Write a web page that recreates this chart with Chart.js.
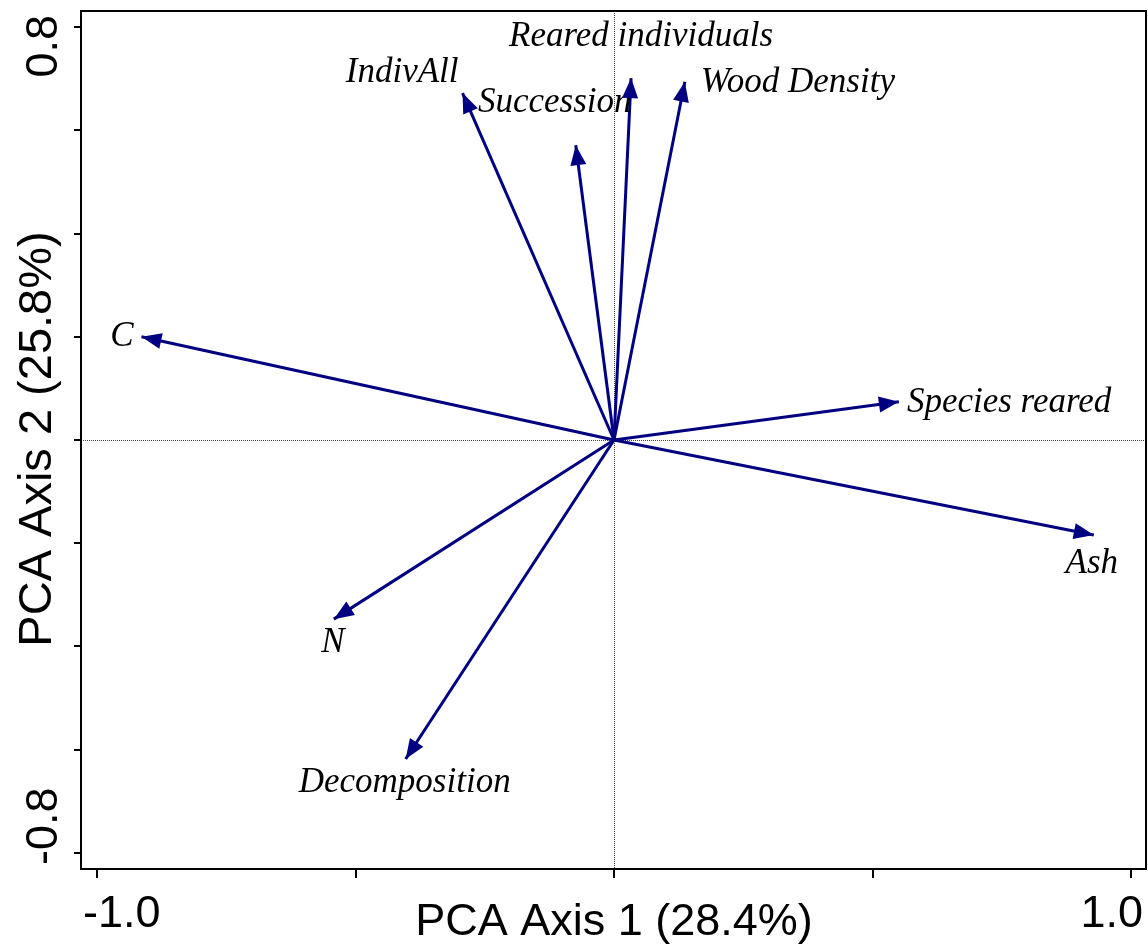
<!DOCTYPE html>
<html>
<head>
<meta charset="utf-8">
<title>PCA biplot</title>
<script src="https://cdn.jsdelivr.net/npm/chart.js@4.4.1/dist/chart.umd.min.js"></script>
<style>
  html, body { margin: 0; padding: 0; background: #fff; }
  #wrap { width: 1148px; height: 944px; }
</style>
</head>
<body>
<div id="wrap"><canvas id="pca"></canvas></div>
<script>
// variable loadings
const variables = ['C', 'Species reared', 'Ash', 'N', 'Decomposition',
                   'IndivAll', 'Succession', 'Reared individuals', 'Wood Density'];
const axis1 = [-0.914, 0.551, 0.928, -0.542, -0.403, -0.293, -0.074, 0.033, 0.137];
const axis2 = [0.200, 0.074, -0.184, -0.347, -0.618, 0.672, 0.571, 0.701, 0.694];

const xTicks = [-1.0, -0.5, 0, 0.5, 1.0];
const yTicks = [-0.8, -0.6, -0.4, -0.2, 0, 0.2, 0.4, 0.6, 0.8];
const xTickLabels = ['-1.0', '1.0'];
const yTickLabels = ['-0.8', '0.8'];
const xTitle = 'PCA Axis 1 (28.4%)';
const yTitle = 'PCA Axis 2 (25.8%)';

const arrowColor = '#000080';
const sansFont = '"Liberation Sans", Arial, sans-serif';
const serifFont = '"Liberation Serif", "Times New Roman", serif';

// label placement relative to the arrow tip: [dx, dy, align]
const labelPlacement = [
    [-8, 9, 'right'],
    [8, 10, 'left'],
    [-2, 38, 'center'],
    [-1, 33, 'center'],
    [-1, 33, 'center'],
    [-4, -11, 'right'],
    [-21, -33, 'center'],
    [10, -32, 'center'],
    [16, 10, 'left']
];

const biplotDecor = {
    id: 'biplotDecor',
    beforeDatasetsDraw(chart) {
        const { ctx, chartArea: a, scales } = chart;
        const x0 = scales.x.getPixelForValue(0);
        const y0 = scales.y.getPixelForValue(0);
        ctx.save();
        ctx.strokeStyle = '#444';
        ctx.lineWidth = 1;
        ctx.setLineDash([1, 1]);
        ctx.beginPath();
        ctx.moveTo(Math.round(x0) + 0.5, a.top);
        ctx.lineTo(Math.round(x0) + 0.5, a.bottom);
        ctx.moveTo(a.left, Math.round(y0) + 0.5);
        ctx.lineTo(a.right, Math.round(y0) + 0.5);
        ctx.stroke();
        ctx.restore();
    },
    afterDatasetsDraw(chart) {
        const ctx = chart.ctx;
        ctx.save();
        chart.data.datasets.forEach((ds, i) => {
            const pts = chart.getDatasetMeta(i).data;
            const p0 = pts[0], p1 = pts[1];
            const ang = Math.atan2(p1.y - p0.y, p1.x - p0.x);
            const len = 20, half = 8;
            const bx = p1.x - len * Math.cos(ang);
            const by = p1.y - len * Math.sin(ang);
            ctx.fillStyle = arrowColor;
            ctx.beginPath();
            ctx.moveTo(p1.x, p1.y);
            ctx.lineTo(bx - half * Math.sin(ang), by + half * Math.cos(ang));
            ctx.lineTo(bx + half * Math.sin(ang), by - half * Math.cos(ang));
            ctx.closePath();
            ctx.fill();

            const [dx, dy, align] = labelPlacement[i];
            ctx.fillStyle = '#000';
            ctx.font = 'italic 35px ' + serifFont;
            ctx.textAlign = align;
            ctx.textBaseline = 'alphabetic';
            ctx.fillText(ds.label, p1.x + dx, p1.y + dy);
        });
        ctx.restore();
    },
    afterDraw(chart) {
        const { ctx, chartArea: a } = chart;
        ctx.save();
        ctx.strokeStyle = '#000';
        ctx.lineWidth = 2;
        ctx.strokeRect(a.left, a.top, a.right - a.left, a.bottom - a.top);

        ctx.fillStyle = '#000';
        ctx.font = '45px ' + sansFont;
        ctx.textBaseline = 'alphabetic';
        // x tick labels pinned to the box edges
        ctx.textAlign = 'left';
        ctx.fillText(xTickLabels[0], a.left + 2, 927);
        ctx.textAlign = 'right';
        ctx.fillText(xTickLabels[1], a.right - 3, 927);
        // y tick labels, rotated
        ctx.save();
        ctx.translate(57, a.bottom - 4);
        ctx.rotate(-Math.PI / 2);
        ctx.textAlign = 'left';
        ctx.fillText(yTickLabels[0], 0, 0);
        ctx.restore();
        ctx.save();
        ctx.translate(57, a.top + 4);
        ctx.rotate(-Math.PI / 2);
        ctx.textAlign = 'right';
        ctx.fillText(yTickLabels[1], 0, 0);
        ctx.restore();

        // axis titles
        ctx.textAlign = 'center';
        ctx.fillText(xTitle, chart.scales.x.getPixelForValue(0), 935);
        ctx.save();
        ctx.font = '47px ' + sansFont;
        ctx.translate(51, chart.scales.y.getPixelForValue(0) - 1);
        ctx.rotate(-Math.PI / 2);
        ctx.fillText(yTitle, 0, 0);
        ctx.restore();
        ctx.restore();
    }
};

const datasets = variables.map((name, i) => ({
    label: name,
    data: [{ x: 0, y: 0 }, { x: axis1[i], y: axis2[i] }],
    showLine: true,
    borderColor: arrowColor,
    borderWidth: 3,
    pointRadius: 0,
    pointHoverRadius: 0,
    fill: false
}));

new Chart(document.getElementById('pca'), {
    type: 'scatter',
    data: { datasets: datasets },
    options: {
        responsive: true,
        maintainAspectRatio: false,
        animation: false,
        layout: { padding: { top: 11, right: 2, left: 0, bottom: 0 } },
        plugins: {
            legend: { display: false },
            tooltip: { enabled: false }
        },
        scales: {
            x: {
                type: 'linear',
                min: -1.031,
                max: 1.029,
                afterBuildTicks: s => { s.ticks = xTicks.map(v => ({ value: v })); },
                afterFit: s => { s.height = 75; },
                ticks: { display: false },
                grid: { drawOnChartArea: false, drawTicks: true, tickLength: 9, color: '#000', lineWidth: 2 },
                border: { display: true, color: '#000', width: 2 }
            },
            y: {
                type: 'linear',
                min: -0.831,
                max: 0.831,
                afterBuildTicks: s => { s.ticks = yTicks.map(v => ({ value: v })); },
                afterFit: s => { s.width = 81; },
                ticks: { display: false },
                grid: { drawOnChartArea: false, drawTicks: true, tickLength: 7, color: '#000', lineWidth: 2 },
                border: { display: true, color: '#000', width: 2 }
            }
        }
    },
    plugins: [biplotDecor]
});
</script>
</body>
</html>
